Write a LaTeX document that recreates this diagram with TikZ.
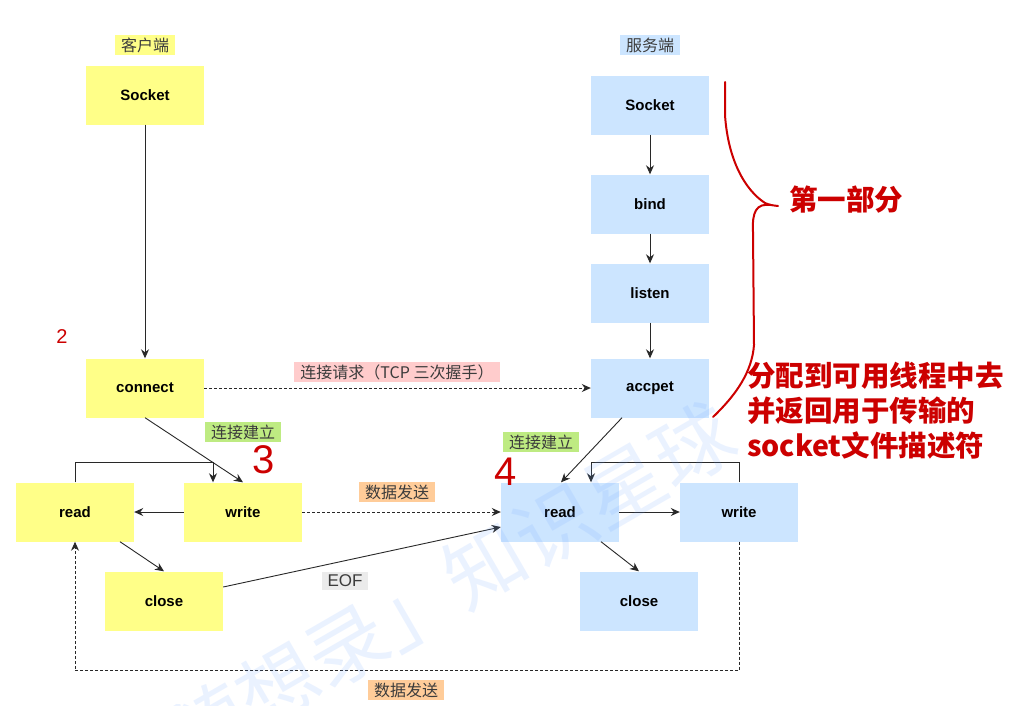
\documentclass[tikz,border=0pt]{standalone}
\usepackage{fontspec}
\setmainfont{Liberation Sans}
\newfontfamily\cjk{Noto Sans CJK SC}
\usetikzlibrary{arrows.meta}
\definecolor{boxyellow}{RGB}{255,255,136}
\definecolor{boxblue}{RGB}{204,229,255}
\definecolor{labpink}{RGB}{255,204,204}
\definecolor{labgreen}{RGB}{190,235,130}
\definecolor{laborange}{RGB}{255,204,153}
\definecolor{labgray}{RGB}{235,235,235}
\definecolor{labtext}{RGB}{60,60,60}
\definecolor{linegray}{RGB}{40,40,40}
\definecolor{annred}{RGB}{204,0,0}
\definecolor{wmblue}{RGB}{110,165,255}
\begin{document}
\begin{tikzpicture}[x=1pt,y=-1pt,
  box/.style={minimum width=118pt,minimum height=59pt,inner sep=0pt,font=\fontsize{15}{18}\selectfont\bfseries},
  ybox/.style={box,fill=boxyellow},
  bbox/.style={box,fill=boxblue},
  lab/.style={inner xsep=6pt,inner ysep=2.5pt,text=labtext,font=\cjk\fontsize{16}{18}\selectfont},
  arr/.style={draw=linegray,line width=0.9pt,-{Stealth[length=9pt,width=8pt]}},
  darr/.style={arr,dash pattern=on 3pt off 2pt},
  annline/.style={draw=annred,line width=2pt,line cap=round,line join=round},
  anntext/.style={text=annred,font=\cjk\bfseries\fontsize{28.5}{35}\selectfont,align=left,inner sep=0pt},
  digit/.style={text=annred,inner sep=0pt}
]
\useasboundingbox (0,0) rectangle (1022,705);
\fill[white] (0,0) rectangle (1022,705);
\clip (0,0) rectangle (1022,705);

% labels of the two sides
\node[lab,fill=boxyellow] (lclient) at (145,45) {客户端};
\node[lab,fill=boxblue] (lserver) at (650,45) {服务端};

% client boxes
\node[ybox] (cSock) at (145,95) {Socket};
\node[ybox] (cConn) at (145,388) {connect};
\node[ybox] (cRead) at (75,512) {read};
\node[ybox] (cWrite) at (243,512) {write};
\node[ybox] (cClose) at (164,601) {close};

% server boxes
\node[bbox] (sSock) at (650,105) {Socket};
\node[bbox] (sBind) at (650,204) {bind};
\node[bbox] (sListen) at (650,293) {listen};
\node[bbox] (sAcc) at (650,388) {accpet};
\node[bbox] (sRead) at (560,512) {read};
\node[bbox] (sWrite) at (739,512) {write};
\node[bbox] (sClose) at (639,601) {close};

% client connectors
\draw[arr] (cSock.south) -- (cConn.north);
\draw[darr] (cConn.east) -- (sAcc.west);
\draw[arr] (cConn.south) -- (cWrite.north);
\draw[arr] (cRead.north) -- ++(0,-20) -| ([xshift=-30pt]cWrite.north);
\draw[arr] (cWrite.west) -- (cRead.east);
\draw[darr] (cWrite.east) -- (sRead.west);
\draw[arr] ([xshift=45pt]cRead.south) -- (cClose.north);
\draw[arr] ([yshift=14pt]cClose.east) -- ([yshift=-15pt]sRead.west);
\draw[darr] (sWrite.south) -- ++(0,129) -| (cRead.south);

% server connectors
\draw[arr] (sSock.south) -- (sBind.north);
\draw[arr] (sBind.south) -- (sListen.north);
\draw[arr] (sListen.south) -- (sAcc.north);
\draw[arr] ([xshift=-28pt]sAcc.south) -- ([xshift=1pt]sRead.north);
\draw[arr] (sWrite.north) -- ++(0,-20) -| ([xshift=31pt]sRead.north);
\draw[arr] (sRead.east) -- (sWrite.west);
\draw[arr] ([xshift=41pt]sRead.south) -- (sClose.north);

% connector labels
\node[lab,fill=labpink] (lreq) at (397,372) {连接请求（TCP 三次握手）};
\node[lab,fill=labgreen] (lest1) at (243,432) {连接建立};
\node[lab,fill=labgreen] (lest2) at (541,442) {连接建立};
\node[lab,fill=laborange] (lsend1) at (397,492) {数据发送};
\node[lab,fill=laborange] (lsend2) at (406,690) {数据发送};
\node[lab,fill=labgray,font=\fontsize{17}{18}\selectfont] (leof) at (345,581) {EOF};

% red annotations
\draw[annline] (725,82) -- (725,115) .. controls (728,160) and (745,190) .. (765,203) .. controls (770,205) .. (778,206);
\draw[annline] (771,205) .. controls (756,203) and (752,212) .. (753,232) -- (754,345) .. controls (752,372) and (736,395) .. (713,417);
\node[anntext] (tpart) at (846,200) {第一部分};
\node[anntext,anchor=west] (tdesc) at (747,411) {分配到可用线程中去\\并返回用于传输的\\socket文件描述符};
\node[digit,font=\fontsize{20}{20}\selectfont] (d2) at (62,337) {2};
\node[digit,font=\fontsize{40}{40}\selectfont] (d3) at (264,460) {3};
\node[digit,font=\fontsize{40}{40}\selectfont] (d4) at (506,472) {4};

% watermark
\node[text=wmblue,text opacity=0.14,font=\cjk\fontsize{80}{80}\selectfont,rotate=30,anchor=east,inner sep=0pt] (wm) at (728,425) {「代码随想录」知识星球};
\end{tikzpicture}
\end{document}
